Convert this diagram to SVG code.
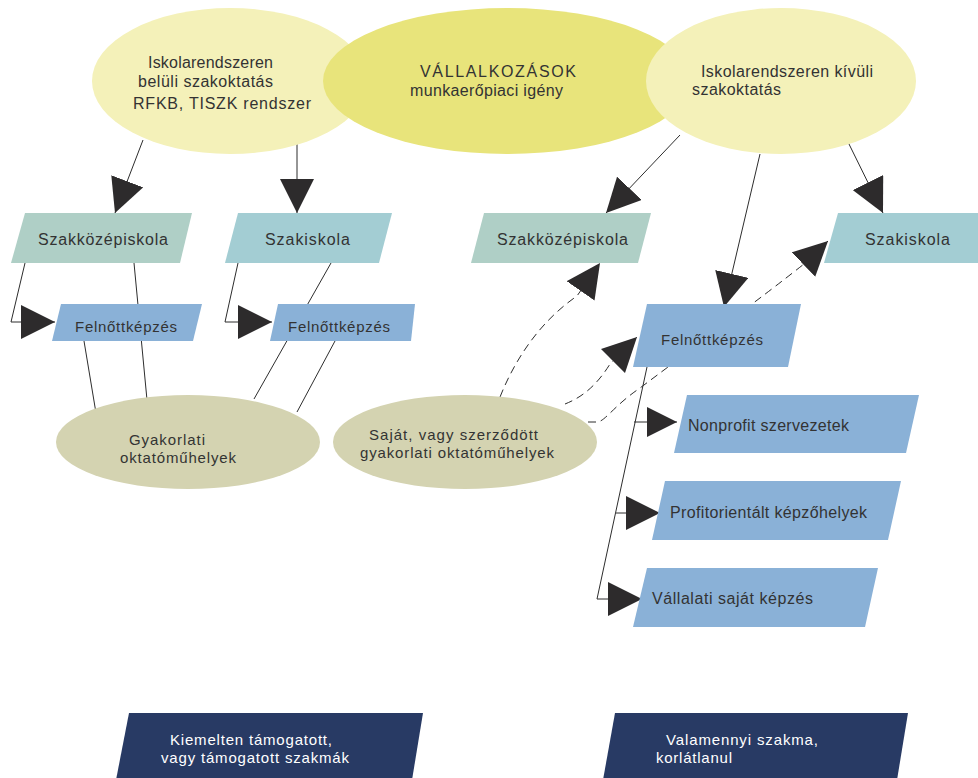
<svg xmlns="http://www.w3.org/2000/svg" width="978" height="778" viewBox="0 0 978 778">
<style>
text{font-family:"Liberation Sans",Arial,sans-serif;fill:#333;font-size:16px}
.s15{font-size:15px}
.w{fill:#fff}
.ln{fill:none;stroke:#2d2d2d;stroke-width:1}
.ds{stroke-dasharray:8 5}
.pale{fill:#F4F1B9}
.mid{fill:#E8E47B}
.olive{fill:#D4D3B1}
.szk{fill:#AFCFC6}
.szi{fill:#A3CDD3}
.fk{fill:#8AB1D7}
.navy{fill:#283A64}
</style>
<defs>
<marker id="arr" markerUnits="userSpaceOnUse" markerWidth="34" markerHeight="34" refX="34" refY="17" orient="auto" viewBox="0 0 34 34"><path d="M0,0 L34,17 L0,34 z" fill="#2d2b2c"/></marker>
<marker id="arrs" markerUnits="userSpaceOnUse" markerWidth="30" markerHeight="30" refX="30" refY="15" orient="auto" viewBox="0 0 30 30"><path d="M0,0 L30,15 L0,30 z" fill="#2d2b2c"/></marker>
</defs>
<g id="connectors">
<path class="ln" d="M143,140 L115,213" marker-end="url(#arr)"/>
<path class="ln" d="M297,140 L297,213" marker-end="url(#arr)"/>
<path class="ln" d="M680,135 L606,213" marker-end="url(#arr)"/>
<path class="ln" d="M760,154 L724,307" marker-end="url(#arr)"/>
<path class="ln" d="M847,140 L883,213" marker-end="url(#arr)"/>
<path class="ln" d="M25,263 L11,322 L55,322" marker-end="url(#arr)"/>
<path class="ln" d="M134,263 L147,400"/>
<path class="ln" d="M84,341 L96,413"/>
<path class="ln" d="M238,263 L225,322 L272,322" marker-end="url(#arr)"/>
<path class="ln" d="M331,263 L254,399"/>
<path class="ln" d="M335,341 L297,412"/>
<path class="ln" d="M647,367 L597,599 L642,599" marker-end="url(#arr)"/>
<path class="ln" d="M634,422 L677,422" marker-end="url(#arrs)"/>
<path class="ln" d="M616,513 L660,513" marker-end="url(#arr)"/>
<path class="ln ds" d="M500,397 C518,352 545,318 577,296 L600,263" marker-end="url(#arr)"/>
<path class="ln ds" d="M565,404 C580,398 595,388 610,364 L637,337" marker-end="url(#arr)"/>
<path class="ln ds" d="M588,422 L598,422 C606,420 615,405 640,388 L752,304 Q776,286 804,264 L828,241" marker-end="url(#arr)"/>
</g>
<g id="iskolai">
<ellipse class="pale" cx="230" cy="81" rx="138" ry="73"/>
<text x="148" y="68" textLength="125" lengthAdjust="spacing">Iskolarendszeren</text>
<text x="138" y="87" textLength="135" lengthAdjust="spacing">belüli szakoktatás</text>
<text x="133" y="109" textLength="178" lengthAdjust="spacing">RFKB, TISZK rendszer</text>
</g>
<g id="vallalkozasok">
<ellipse class="mid" cx="507" cy="81" rx="184" ry="73"/>
<text x="420" y="77" textLength="156" lengthAdjust="spacing">VÁLLALKOZÁSOK</text>
<text x="410" y="96" textLength="153" lengthAdjust="spacing">munkaerőpiaci igény</text>
</g>
<g id="iskolan-kivuli">
<ellipse class="pale" cx="781" cy="81" rx="135" ry="73"/>
<text x="701" y="77" textLength="172" lengthAdjust="spacing">Iskolarendszeren kívüli</text>
<text x="692" y="95" textLength="89" lengthAdjust="spacing">szakoktatás</text>
</g>
<g id="szakkozep-bal">
<polygon class="szk" points="25,213 192,213 180,263 11,263"/>
<text x="38" y="245" textLength="130" lengthAdjust="spacing">Szakközépiskola</text>
</g>
<g id="szakiskola-bal">
<polygon class="szi" points="238,213 392,213 379,263 225,263"/>
<text x="265" y="245" textLength="85" lengthAdjust="spacing">Szakiskola</text>
</g>
<g id="felnott-bal-1">
<polygon class="fk" points="61,304 202,304 193,341 52,341"/>
<text class="s15" x="75" y="332" textLength="102" lengthAdjust="spacing">Felnőttképzés</text>
</g>
<g id="felnott-bal-2">
<polygon class="fk" points="278,304 415,304 411,341 270,341"/>
<text class="s15" x="288" y="332" textLength="102" lengthAdjust="spacing">Felnőttképzés</text>
</g>
<g id="szakkozep-jobb">
<polygon class="szk" points="484,213 651,213 638,263 471,263"/>
<text x="497" y="245" textLength="131" lengthAdjust="spacing">Szakközépiskola</text>
</g>
<g id="szakiskola-jobb">
<polygon class="szi" points="838,213 990,213 990,263 824,263"/>
<text x="865" y="245" textLength="85" lengthAdjust="spacing">Szakiskola</text>
</g>
<g id="felnott-jobb">
<polygon class="fk" points="647,304 801,304 788,367 633,367"/>
<text class="s15" x="661" y="345" textLength="102" lengthAdjust="spacing">Felnőttképzés</text>
</g>
<g id="gyakorlati">
<ellipse class="olive" cx="188" cy="442" rx="132" ry="47"/>
<text class="s15" x="129" y="445" textLength="76" lengthAdjust="spacing">Gyakorlati</text>
<text class="s15" x="120" y="463" textLength="116" lengthAdjust="spacing">oktatóműhelyek</text>
</g>
<g id="sajat">
<ellipse class="olive" cx="465" cy="442" rx="132" ry="47"/>
<text class="s15" x="369" y="440" textLength="169" lengthAdjust="spacing">Saját, vagy szerződött</text>
<text class="s15" x="360" y="458" textLength="194" lengthAdjust="spacing">gyakorlati oktatóműhelyek</text>
</g>
<g id="nonprofit">
<polygon class="fk" points="687,395 919,395 906,453 674,453"/>
<text x="688" y="431" textLength="161" lengthAdjust="spacing">Nonprofit szervezetek</text>
</g>
<g id="profit">
<polygon class="fk" points="665,481 901,481 888,540 652,540"/>
<text x="670" y="518" textLength="197" lengthAdjust="spacing">Profitorientált képzőhelyek</text>
</g>
<g id="vallalati">
<polygon class="fk" points="647,568 878,568 865,627 633,627"/>
<text x="652" y="604" textLength="161" lengthAdjust="spacing">Vállalati saját képzés</text>
</g>
<g id="kiemelt">
<polygon class="navy" points="129,713 423,713 412,780 116,780"/>
<text class="s15 w" x="170" y="745" textLength="162" lengthAdjust="spacing">Kiemelten támogatott,</text>
<text class="s15 w" x="161" y="763" textLength="188" lengthAdjust="spacing">vagy támogatott szakmák</text>
</g>
<g id="valamennyi">
<polygon class="navy" points="615,713 908,713 897,780 603,780"/>
<text class="s15 w" x="666" y="745" textLength="152" lengthAdjust="spacing">Valamennyi szakma,</text>
<text class="s15 w" x="656" y="763" textLength="76" lengthAdjust="spacing">korlátlanul</text>
</g>
</svg>
